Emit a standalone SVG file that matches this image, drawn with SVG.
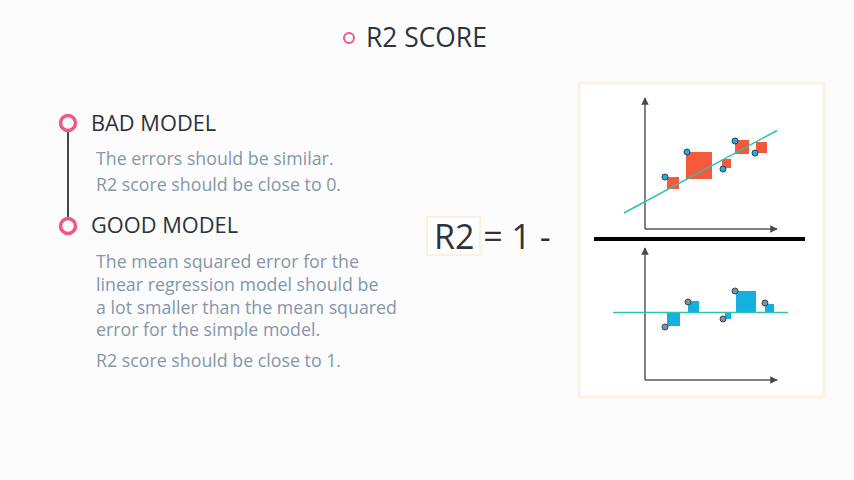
<svg xmlns="http://www.w3.org/2000/svg" width="854" height="480" viewBox="0 0 854 480">
<defs>
<style>
.t{font-family:"Open Sans","Liberation Sans",sans-serif;fill:#2d333b}
.b{font-family:"Open Sans","Liberation Sans",sans-serif;fill:#8596a9;font-size:17.8px}
.ax{stroke:#555a60;stroke-width:1.5;fill:none}
.red{fill:#f5583a}
.blu{fill:#15b0e0}
.pr{fill:#1fb0e3;stroke:#2c3e50;stroke-width:1}
.pg{fill:#7f90a5;stroke:#3b4552;stroke-width:1}
.ring{fill:none;stroke:#ee5a85}
</style>
<marker id="ar" viewBox="0 0 10 10" refX="9" refY="5" markerWidth="5" markerHeight="5" orient="auto"><path d="M0,0 L10,5 L0,10 z" fill="#444a50"/></marker>
</defs>
<rect width="854" height="480" fill="#fcfcfd"/>

<g id="title">
<circle class="ring" cx="349" cy="38" r="5" stroke-width="2"/>
<text class="t" x="366" y="47" font-size="26.4">R2 SCORE</text>
</g>

<g id="connectors">
<line x1="68" y1="131" x2="68" y2="218" stroke="#333" stroke-width="1.8"/>
</g>

<g id="bad-model">
<circle class="ring" cx="68" cy="123" r="7.5" stroke-width="3.5" fill="#fff"/>
<text class="t" x="91" y="131" font-size="21.8">BAD MODEL</text>
<text class="b" x="96" y="165">The errors should be similar.</text>
<text class="b" x="96" y="191">R2 score should be close to 0.</text>
</g>

<g id="good-model">
<circle class="ring" cx="68" cy="226" r="7.5" stroke-width="3.5" fill="#fff"/>
<text class="t" x="91" y="233" font-size="21.8">GOOD MODEL</text>
<text class="b" x="96" y="268">The mean squared error for the</text>
<text class="b" x="96" y="291">linear regression model should be</text>
<text class="b" x="96" y="314">a lot smaller than the mean squared</text>
<text class="b" x="96" y="336">error for the simple model.</text>
<text class="b" x="96" y="367">R2 score should be close to 1.</text>
</g>

<g id="formula">
<rect x="427" y="217" width="53" height="38" fill="#fff" stroke="#fcefdc" stroke-width="2"/>
<text class="t" x="434" y="249" font-size="34">R2 = 1 -</text>
</g>

<g id="panel">
<rect x="579" y="83" width="245" height="314" fill="#fff" stroke="#fdf1e2" stroke-width="3"/>
<!-- top chart -->
<line class="ax" x1="645" y1="229" x2="645" y2="98" marker-end="url(#ar)"/>
<line class="ax" x1="645" y1="229" x2="777" y2="229" marker-end="url(#ar)"/>
<rect class="red" x="667" y="177" width="12" height="12"/>
<rect class="red" x="686" y="152" width="26" height="27"/>
<rect class="red" x="722" y="159" width="9" height="9"/>
<rect class="red" x="735" y="140" width="14" height="14"/>
<rect class="red" x="756" y="142" width="11" height="11"/>
<line x1="624" y1="213" x2="777" y2="130.5" stroke="#2bc4b2" stroke-width="1.5"/>
<circle class="pr" cx="665" cy="177" r="3"/>
<circle class="pr" cx="687" cy="152" r="3"/>
<circle class="pr" cx="723" cy="169" r="3"/>
<circle class="pr" cx="735" cy="141" r="3"/>
<circle class="pr" cx="755" cy="153" r="3"/>
<!-- divider -->
<rect x="594" y="237" width="211" height="4" fill="#000"/>
<!-- bottom chart -->
<line class="ax" x1="645" y1="380" x2="645" y2="248" marker-end="url(#ar)"/>
<line class="ax" x1="645" y1="380" x2="777" y2="380" marker-end="url(#ar)"/>
<rect class="blu" x="667" y="312" width="13" height="14"/>
<rect class="blu" x="688" y="301" width="11" height="12"/>
<rect class="blu" x="725" y="312" width="6" height="7"/>
<rect class="blu" x="736" y="291" width="20" height="22"/>
<rect class="blu" x="765" y="304" width="9" height="9"/>
<line x1="613" y1="312.5" x2="788" y2="312.5" stroke="#2bc4b2" stroke-width="1.5"/>
<circle class="pg" cx="665" cy="327" r="3"/>
<circle class="pg" cx="688" cy="302" r="3"/>
<circle class="pg" cx="723" cy="319" r="3"/>
<circle class="pg" cx="735" cy="291" r="3"/>
<circle class="pg" cx="765" cy="303" r="3"/>
</g>
</svg>
